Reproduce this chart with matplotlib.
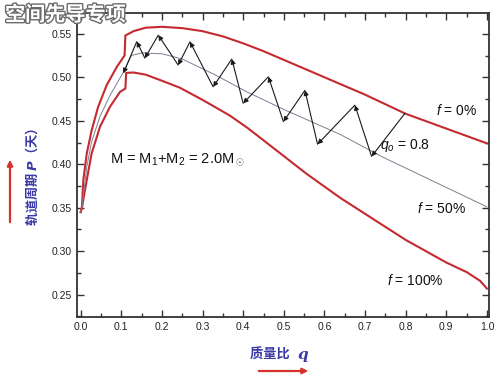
import matplotlib
matplotlib.use("Agg")
import matplotlib.pyplot as plt
import matplotlib.patheffects as pe
from matplotlib.ticker import MultipleLocator

plt.rcParams['font.family'] = ['Liberation Sans', 'Noto Sans CJK SC', 'DejaVu Sans']
plt.rcParams['mathtext.fontset'] = 'custom'
plt.rcParams['mathtext.rm'] = 'Liberation Sans'
plt.rcParams['mathtext.it'] = 'Liberation Sans:italic'
plt.rcParams['mathtext.bf'] = 'Liberation Sans:bold'

# f = 0% curve
q_f0 = [0.0, 0.003, 0.0065, 0.015, 0.027, 0.043, 0.064, 0.089, 0.108, 0.110, 0.13, 0.16,
        0.20, 0.25, 0.30, 0.35, 0.40, 0.45, 0.50, 0.55, 0.60, 0.70, 0.80, 0.90, 1.0]
P_f0 = [0.345, 0.350, 0.382, 0.4125, 0.439, 0.466, 0.491, 0.512, 0.525, 0.548, 0.553, 0.557,
        0.558, 0.5565, 0.553, 0.547, 0.539, 0.530, 0.520, 0.510, 0.500, 0.480, 0.458, 0.441, 0.424]

# f = 50% curve
q_f50 = [0.0, 0.003, 0.015, 0.027, 0.0475, 0.072, 0.101, 0.125, 0.15, 0.20, 0.25, 0.33,
         0.41, 0.50, 0.64, 0.74, 0.87, 1.0]
P_f50 = [0.345, 0.350, 0.397, 0.426, 0.455, 0.479, 0.5025, 0.525, 0.528, 0.527, 0.521, 0.503,
         0.483, 0.463, 0.434, 0.409, 0.380, 0.351]

# f = 100% curve
q_f100 = [0.0, 0.003, 0.015, 0.027, 0.0475, 0.072, 0.097, 0.110, 0.112, 0.13, 0.16, 0.20,
          0.244, 0.30, 0.367, 0.41, 0.49, 0.556, 0.64, 0.72, 0.80, 0.90, 0.95, 0.983, 1.0]
P_f100 = [0.345, 0.350, 0.382, 0.4125, 0.443, 0.466, 0.4833, 0.487, 0.505, 0.5055, 0.503, 0.496,
          0.488, 0.474, 0.456, 0.442, 0.413, 0.389, 0.361, 0.337, 0.313, 0.287, 0.276, 0.266, 0.257]

# zig-zag evolution track starting at q0 = 0.8
track_q = [0.798, 0.716, 0.675, 0.583, 0.552, 0.499, 0.462, 0.400, 0.372, 0.326,
           0.269, 0.240, 0.191, 0.158, 0.138, 0.105]
track_P = [0.4585, 0.409, 0.468, 0.423, 0.485, 0.449, 0.5006, 0.470, 0.521, 0.489,
           0.5408, 0.514, 0.5485, 0.522, 0.541, 0.5045]

xticks = [0.0, 0.1, 0.2, 0.3, 0.4, 0.5, 0.6, 0.7, 0.8, 0.9, 1.0]
yticks = [0.25, 0.30, 0.35, 0.40, 0.45, 0.50, 0.55]

red = '#c42a2f'
blue = '#3a3aa6'

fig = plt.figure(figsize=(5.0, 3.86), dpi=100)
ax = fig.add_axes([0.153, 0.1788, 0.825, 0.788])

ax.plot(q_f0, P_f0, color=red, lw=1.5)
ax.plot(q_f100, P_f100, color=red, lw=1.5)
ax.plot(q_f50, P_f50, color='#7a8092', lw=0.7)

for i in range(len(track_q) - 1):
    ax.annotate('', xy=(track_q[i + 1], track_P[i + 1]), xytext=(track_q[i], track_P[i]),
                arrowprops=dict(arrowstyle='-|>', color='#1a1a1a', lw=0.8,
                                mutation_scale=7, shrinkA=0, shrinkB=0))

ax.set_xlim(-0.0103, 1.005)
ax.set_ylim(0.2244, 0.5741)
ax.set_xticks(xticks)
ax.set_yticks(yticks)
ax.set_xticklabels([f'{v:.1f}' for v in xticks])
ax.set_yticklabels([f'{v:.2f}' for v in yticks])
ax.xaxis.set_minor_locator(MultipleLocator(0.05))
ax.yaxis.set_minor_locator(MultipleLocator(0.025))
ax.tick_params(which='both', direction='in', top=True, right=True, colors='#333333',
               labelsize=7.5, labelcolor='#222222')
ax.tick_params(which='major', length=5, width=1)
ax.tick_params(which='minor', length=3, width=1)
for s in ax.spines.values():
    s.set_color('#333333')
    s.set_linewidth(1.3)

ax.text(0.926, 0.462, r'$f$ = 0%', fontsize=10, ha='center', va='center', color='#111')
ax.text(0.887, 0.3494, r'$f$ = 50%', fontsize=10, ha='center', va='center', color='#111')
ax.text(0.823, 0.2667, r'$f$ = 100%', fontsize=10, ha='center', va='center', color='#111')
ax.text(0.737, 0.422, r'$q_o$ = 0.8', fontsize=10, ha='left', va='center', color='#111')
ax.text(0.0724, 0.4048, r'M = M$_1$+M$_2$ = 2.0M$_\odot$', fontsize=10.5, ha='left',
        va='center', color='#111')

# axis labels
fig.text(31.7 / 500, 1 - 177 / 386, '轨道周期 $\\boldsymbol{P}$（天）', rotation=90,
         ha='center', va='center', fontsize=9.5, fontweight='bold', color=blue,
         family=['Noto Sans CJK SC', 'DejaVu Sans'])
fig.text(293 / 500, 1 - 355 / 386, '质量比 ', ha='right', va='center', fontsize=9.5,
         fontweight='bold', color=blue, family=['Noto Sans CJK SC', 'DejaVu Sans'])
fig.text(298 / 500, 1 - 355 / 386, 'q', ha='left', va='center', fontsize=11,
         fontweight='bold', style='italic', color=blue, family='DejaVu Serif')

# red arrows
fig.add_artist(matplotlib.patches.FancyArrowPatch(
    (10 / 500, 1 - 225 / 386), (10 / 500, 1 - 157 / 386), transform=fig.transFigure,
    arrowstyle='-|>', mutation_scale=8, color='#d8302a', lw=1.6))
fig.add_artist(matplotlib.patches.FancyArrowPatch(
    (256 / 500, 1 - 371 / 386), (311 / 500, 1 - 371 / 386), transform=fig.transFigure,
    arrowstyle='-|>', mutation_scale=8, color='#d8302a', lw=1.6))

# watermark title
fig.text(0.01, 0.99, '空间先导专项', ha='left', va='top', fontsize=14.5, fontweight='bold',
         color='white', family=['Noto Sans CJK SC', 'DejaVu Sans'],
         path_effects=[pe.withStroke(linewidth=2.0, foreground='#6a6a6a')])

fig.savefig('out.png', dpi=100)
